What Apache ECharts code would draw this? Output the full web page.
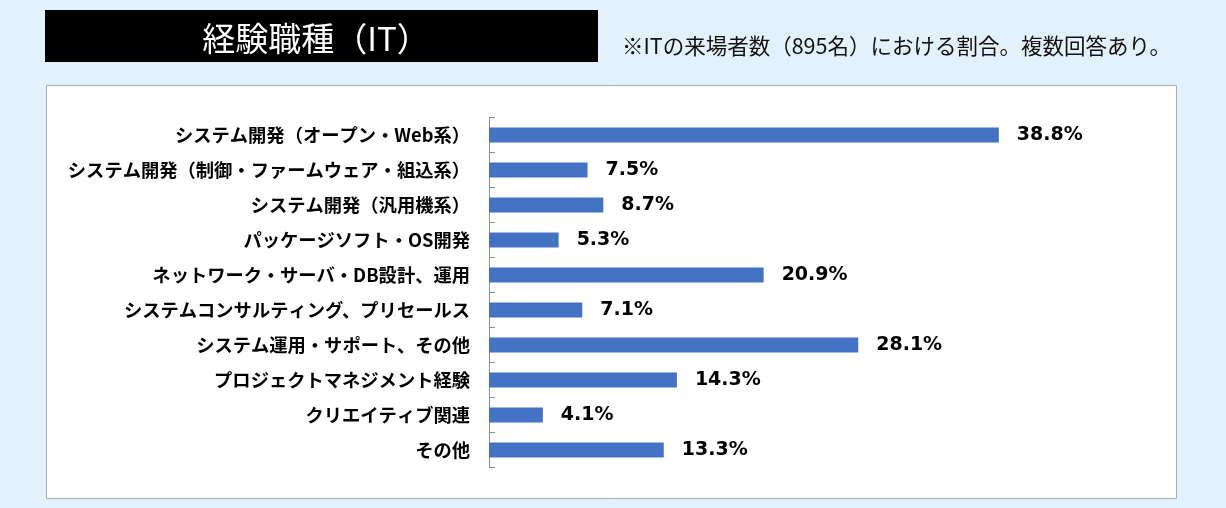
<!DOCTYPE html>
<html>
<head>
<meta charset="utf-8">
<script src="https://cdn.jsdelivr.net/npm/echarts@6/dist/echarts.min.js"></script>
<style>
  html, body { margin: 0; padding: 0; background: #e2f1fc; }
  #chart { width: 1226px; height: 508px; }
</style>
</head>
<body>
<div id="chart"></div>
<script>
  // 職種カテゴリ（上から順）
  const categories = [
    'システム開発（オープン・Web系）',
    'システム開発（制御・ファームウェア・組込系）',
    'システム開発（汎用機系）',
    'パッケージソフト・OS開発',
    'ネットワーク・サーバ・DB設計、運用',
    'システムコンサルティング、プリセールス',
    'システム運用・サポート、その他',
    'プロジェクトマネジメント経験',
    'クリエイティブ関連',
    'その他'
  ];
  // 割合（%）
  const rates = [38.8, 7.5, 8.7, 5.3, 20.9, 7.1, 28.1, 14.3, 4.1, 13.3];

  const titleText = '経験職種（IT）';
  const noteText = '※ITの来場者数（895名）における割合。複数回答あり。';

  const jpFont = '"Noto Sans CJK JP", sans-serif';

  let chart = echarts.init(document.getElementById('chart'));
  let option = {
    backgroundColor: '#e2f1fc',
    animation: false,
    graphic: [
      {
        type: 'rect',
        shape: { x: 46.5, y: 85.5, width: 1130, height: 413 },
        style: { fill: '#ffffff', stroke: '#a6adb4', lineWidth: 1 },
        z: 0
      },
      {
        type: 'rect',
        shape: { x: 45, y: 10, width: 553, height: 52 },
        style: { fill: '#000000' },
        z: 0
      },
      {
        type: 'text',
        x: 316, y: 38,
        style: {
          text: titleText, fill: '#ffffff', font: '33px ' + jpFont,
          align: 'center', verticalAlign: 'middle'
        }
      },
      {
        type: 'text',
        x: 622, y: 46,
        style: {
          text: noteText, fill: '#111111', font: '21.5px ' + jpFont,
          align: 'left', verticalAlign: 'middle'
        }
      }
    ],
    grid: {
      left: 489,
      top: 117.5,
      width: 657,
      height: 350,
      containLabel: false
    },
    xAxis: {
      type: 'value',
      min: 0,
      max: 50,
      show: false
    },
    yAxis: {
      type: 'category',
      inverse: true,
      data: categories,
      axisLine: { show: true, lineStyle: { color: '#8c8c8c', width: 1 } },
      axisTick: { show: true, inside: true, length: 6, lineStyle: { color: '#8c8c8c' } },
      axisLabel: {
        color: '#000000',
        fontSize: 18.3,
        fontWeight: 'bold',
        fontFamily: jpFont,
        margin: 19
      },
      splitLine: { show: false }
    },
    series: [
      {
        type: 'bar',
        data: rates,
        barWidth: 15,
        itemStyle: { color: '#4472c4' },
        label: {
          show: true,
          position: 'right',
          distance: 18,
          formatter: p => p.value.toFixed(1) + '%',
          color: '#000000',
          fontSize: 19,
          fontWeight: 'bold',
          fontFamily: '"DejaVu Sans", Verdana, sans-serif'
        }
      }
    ]
  };
  chart.setOption(option, true);
  window.addEventListener('resize', function () {
    chart.resize();
  });
</script>
</body>
</html>
